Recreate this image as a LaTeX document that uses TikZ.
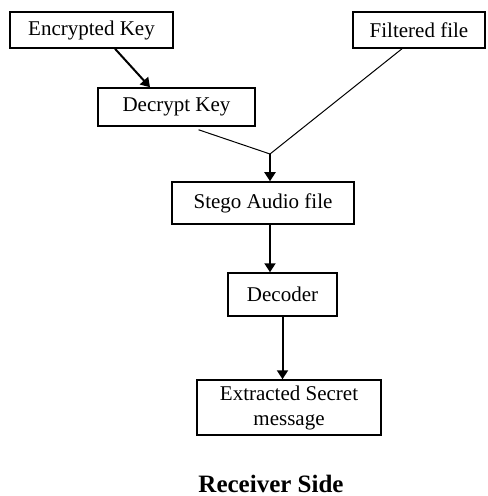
\documentclass[tikz,border=0pt]{standalone}
\usepackage{fontspec}
\setmainfont{Liberation Serif}
\usetikzlibrary{arrows.meta}
\tikzset{
  blk/.style={draw,line width=0.75pt,rectangle,align=center,inner sep=1pt,
    font=\fontsize{10.5pt}{12.5pt}\selectfont},
  arr/.style={line width=1pt,-{Triangle[length=4.5pt,width=5.5pt]}},
  thin line/.style={line width=0.5pt}
}
\begin{document}
\begin{tikzpicture}[x=0.5pt,y=-0.5pt]
                \useasboundingbox (0,0) rectangle (487,496);
                \node[blk,minimum width=81.5pt,minimum height=18pt] (enc) at (91.5,30) {Encrypted Key};
                \node[blk,minimum width=66pt,minimum height=18pt] (filt) at (419,30) {Filtered file};
                \node[blk,minimum width=78.5pt,minimum height=19pt] (dec) at (176.5,107) {Decrypt Key};
                \node[blk,minimum width=91pt,minimum height=21pt] (stego) at (263,203) {Stego Audio file};
                \node[blk,minimum width=54.5pt,minimum height=21.5pt] (dcd) at (282.5,294.5) {Decoder};
                \node[blk,minimum width=92pt,minimum height=27.5pt] (ext) at (289,407.5) {Extracted Secret\\message};
                \node[font=\fontsize{12.5pt}{14pt}\selectfont\bfseries] (side) at (271,484) {Receiver Side};
                % joining point of the two inputs
                \coordinate (junc) at (270,154);
                \draw[arr] ([xshift=11.75pt]enc.south) -- ([xshift=-13.25pt]dec.north);
                \draw[thin line] ([xshift=11pt,yshift=-1.5pt]dec.south) -- (junc);
                \draw[thin line] ([xshift=-8.5pt]filt.south) -- (junc);
                \draw[arr] (junc) -- (junc |- stego.north);
                \draw[arr] (junc |- stego.south) -- (junc |- dcd.north);
                \draw[arr] (dcd.south) -- (dcd.south |- ext.north);
            \end{tikzpicture}
\end{document}
